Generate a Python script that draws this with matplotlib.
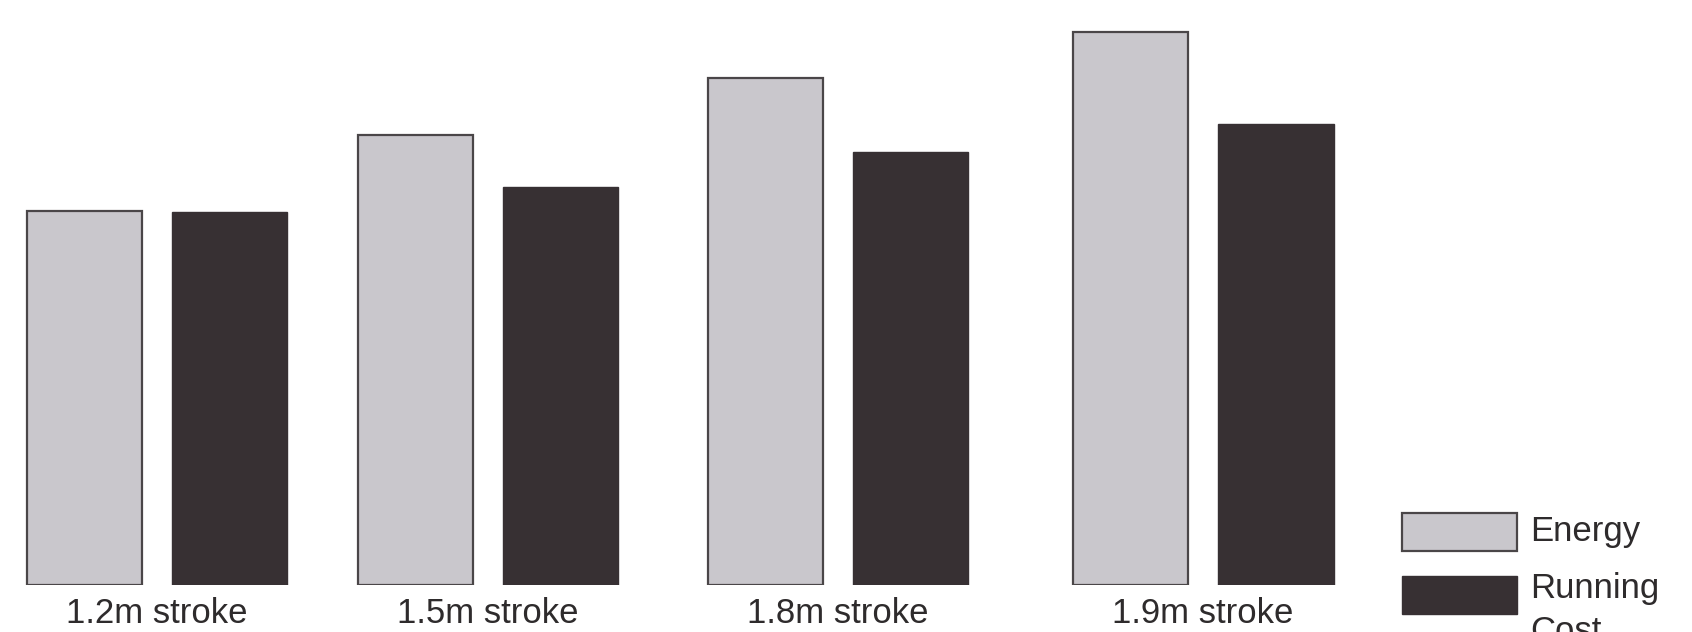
import matplotlib
matplotlib.use("Agg")
import matplotlib.pyplot as plt
from matplotlib.patches import Rectangle
from matplotlib.transforms import blended_transform_factory

categories = ["1.2m stroke", "1.5m stroke", "1.8m stroke", "1.9m stroke"]
energy = [3.74, 4.50, 5.07, 5.53]
running_cost = [3.73, 3.98, 4.33, 4.61]
series_names = ["Energy", "Running\nCost"]

# layout (group centres in group-spacing units)
group_pos = [0.0, 0.949, 1.953, 3.0]
bar_w = 0.33
offset = 0.209

W, H = 1692, 632
fig = plt.figure(figsize=(W / 100, H / 100), dpi=100)
plt.rcParams['font.family'] = ['Liberation Sans', 'DejaVu Sans']

unit = 348.7
x0 = 157
ax = fig.add_axes([0, 47 / H, 1, 585 / H])
ax.set_xlim(-x0 / unit, (W - x0) / unit)
ax.set_ylim(0, 5.85)
ax.axis('off')

e_col = '#c9c7cc'
r_col = '#373033'
edge = '#4a4648'
txt_col = '#2e2b2c'
fs = 25

for i, g in enumerate(group_pos):
    ax.bar(g - offset, energy[i], width=bar_w, color=e_col, edgecolor=edge, linewidth=1.6)
    ax.bar(g + offset, running_cost[i], width=bar_w, color=r_col, edgecolor=r_col, linewidth=1.0)

trans = blended_transform_factory(ax.transData, fig.transFigure)
for g, lab in zip(group_pos, categories):
    ax.text(g, (H - 623) / H, lab, transform=trans, ha='center', va='baseline',
            fontsize=fs, color=txt_col)

# legend
def px(x, y):
    return x / W, (H - y) / H

x, y = px(1402, 551)
fig.patches.append(Rectangle((x, y), 115 / W, 38 / H, transform=fig.transFigure,
                             facecolor=e_col, edgecolor=edge, linewidth=1.6))
x, y = px(1402, 614)
fig.patches.append(Rectangle((x, y), 115 / W, 38 / H, transform=fig.transFigure,
                             facecolor=r_col, edgecolor=r_col, linewidth=1.0))
fig.text(*px(1530, 541), series_names[0], ha='left', va='baseline', fontsize=fs, color=txt_col)
lines = series_names[1].split("\n")
fig.text(*px(1530, 598), lines[0], ha='left', va='baseline', fontsize=fs, color=txt_col)
fig.text(*px(1530, 641), lines[1], ha='left', va='baseline', fontsize=fs, color=txt_col)

fig.savefig("out.png", dpi=100)
